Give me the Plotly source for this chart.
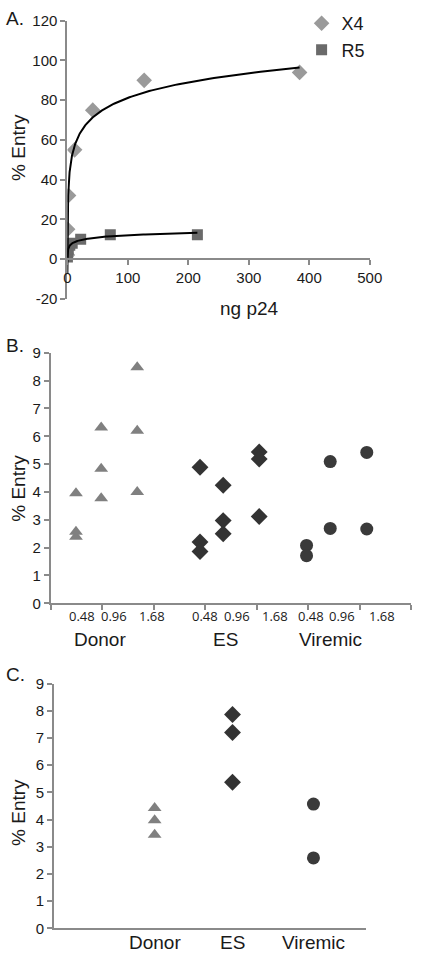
import numpy as np
import plotly.graph_objects as go

# ---------------- Panel A data ----------------
x4_ng = [0.04, 0.2, 0.5, 2, 12, 42, 127, 384]
x4_entry = [2, 7, 15, 32, 55, 75, 90, 94]
r5_ng = [0.1, 0.5, 1.5, 4, 8, 22, 71, 215]
r5_entry = [1, 3, 5, 7, 8, 10, 12.3, 12.3]
a_y_ticks = [-20, 0, 20, 40, 60, 80, 100, 120]
a_y_ticktext = ["-20", "0", "20", "40", "60", "80", "100", "120"]
a_x_ticks = [0, 100, 200, 300, 400, 500]

# ---------------- Panel B data ----------------
dose_labels = ["0.48", "0.96", "1.68"]
group_names = ["Donor", "ES", "Viremic"]
donor_x = [0.49, 0.98, 1.68]
donor_y = [[3.95, 2.57, 2.39], [6.32, 4.83, 3.77], [8.48, 6.2, 4.0]]
es_x = [2.90, 3.35, 4.05]
es_y = [[4.89, 2.2, 1.86], [4.24, 2.97, 2.5], [5.44, 5.18, 3.12]]
vir_x = [4.97, 5.43, 6.14]
vir_y = [[2.08, 1.71], [5.09, 2.69], [5.42, 2.67]]
dose_label_x = [[0.615, 1.22, 1.96], [2.99, 3.61, 4.35], [5.05, 5.66, 6.43]]
group_label_x = [0.96, 3.4, 5.43]

# ---------------- Panel C data ----------------
c_x = [1.29, 2.29, 3.33]
c_donor = [4.43, 3.98, 3.44]
c_es = [7.86, 7.2, 5.37]
c_vir = [4.57, 2.59]

W, H = 425, 960
FONT = "Liberation Sans, Arial, sans-serif"
AXC = "#8a8a8a"
TXT = "#1a1a1a"

def px_x(p):
    return p / W

def px_y(p):
    return 1 - p / H

def logfit(xs, ys):
    lx = np.log(np.array(xs, dtype=float))
    a, b = np.polyfit(lx, np.array(ys, dtype=float), 1)
    xx = np.geomspace(min(xs), max(xs), 300)
    return xx, a * np.log(xx) + b

fig = go.Figure()

# Panel A
fig.add_trace(go.Scatter(x=x4_ng, y=x4_entry, mode="markers", name="X4",
                         marker=dict(symbol="diamond", size=12, color="#9a9a9a"),
                         xaxis="x", yaxis="y"))
fig.add_trace(go.Scatter(x=r5_ng, y=r5_entry, mode="markers", name="R5",
                         marker=dict(symbol="square", size=11, color="#6a6a6a"),
                         xaxis="x", yaxis="y"))
fx, fy = logfit(x4_ng, x4_entry)
fig.add_trace(go.Scatter(x=fx, y=fy, mode="lines", line=dict(color="black", width=2),
                         showlegend=False, xaxis="x", yaxis="y"))
fx, fy = logfit(r5_ng, r5_entry)
fig.add_trace(go.Scatter(x=fx, y=fy, mode="lines", line=dict(color="black", width=2),
                         showlegend=False, xaxis="x", yaxis="y"))

# Panel B
for xi, ys in zip(donor_x, donor_y):
    fig.add_trace(go.Scatter(x=[xi] * len(ys), y=ys, mode="markers", showlegend=False,
                             marker=dict(symbol="triangle-up", size=12, color="#808080"),
                             xaxis="x2", yaxis="y2"))
for xi, ys in zip(es_x, es_y):
    fig.add_trace(go.Scatter(x=[xi] * len(ys), y=ys, mode="markers", showlegend=False,
                             marker=dict(symbol="diamond", size=13, color="#333333"),
                             xaxis="x2", yaxis="y2"))
for xi, ys in zip(vir_x, vir_y):
    fig.add_trace(go.Scatter(x=[xi] * len(ys), y=ys, mode="markers", showlegend=False,
                             marker=dict(symbol="circle", size=13, color="#3a3a3a"),
                             xaxis="x2", yaxis="y2"))

# Panel C
fig.add_trace(go.Scatter(x=[c_x[0]] * len(c_donor), y=c_donor, mode="markers", showlegend=False,
                         marker=dict(symbol="triangle-up", size=12, color="#808080"),
                         xaxis="x3", yaxis="y3"))
fig.add_trace(go.Scatter(x=[c_x[1]] * len(c_es), y=c_es, mode="markers", showlegend=False,
                         marker=dict(symbol="diamond", size=13, color="#333333"),
                         xaxis="x3", yaxis="y3"))
fig.add_trace(go.Scatter(x=[c_x[2]] * len(c_vir), y=c_vir, mode="markers", showlegend=False,
                         marker=dict(symbol="circle", size=13, color="#3a3a3a"),
                         xaxis="x3", yaxis="y3"))

tickfont = dict(family=FONT, size=15, color=TXT)
common_axis = dict(showgrid=False, zeroline=False, showline=True, linecolor=AXC, linewidth=2,
                   ticks="outside", tickcolor=AXC, ticklen=5, tickwidth=1.5, tickfont=tickfont)

annotations = []
# panel letters
for lab, yp in [("A.", 10), ("B.", 343), ("C.", 677)]:
    annotations.append(dict(text=lab, x=0, y=px_y(yp), xref="paper", yref="paper",
                            xanchor="left", yanchor="middle", showarrow=False,
                            font=dict(family=FONT, size=19, color=TXT)))
# y titles
for yp in [141, 488, 818]:
    annotations.append(dict(text="% Entry", x=px_x(15), y=px_y(yp), xref="paper", yref="paper",
                            textangle=-90, xanchor="center", yanchor="middle", showarrow=False,
                            font=dict(family=FONT, size=19, color=TXT)))
# x title A
annotations.append(dict(text="ng p24", x=px_x(256), y=px_y(305), xref="paper", yref="paper",
                        xanchor="center", yanchor="middle", showarrow=False,
                        font=dict(family=FONT, size=19, color=TXT)))
# dose labels B
for xs in dose_label_x:
    for xv, lab in zip(xs, dose_labels):
        annotations.append(dict(text=lab, x=xv, y=px_y(618), xref="x2", yref="paper",
                                xanchor="center", yanchor="middle", showarrow=False,
                                font=dict(family="Open Sans, sans-serif", size=13, color=TXT)))
for xv, lab in zip(group_label_x, group_names):
    annotations.append(dict(text=lab, x=xv, y=px_y(642), xref="x2", yref="paper",
                            xanchor="center", yanchor="middle", showarrow=False,
                            font=dict(family=FONT, size=19, color=TXT)))
# category labels C
for xv, lab in zip(c_x, group_names):
    annotations.append(dict(text=lab, x=xv, y=px_y(950), xref="x3", yref="paper",
                            xanchor="center", yanchor="middle", showarrow=False,
                            font=dict(family=FONT, size=19, color=TXT)))

fig.update_layout(
    width=W, height=H, margin=dict(l=0, r=0, t=0, b=0),
    paper_bgcolor="white", plot_bgcolor="white",
    showlegend=True,
    legend=dict(x=px_x(310), y=px_y(-4), xanchor="left", yanchor="top",
                font=dict(family=FONT, size=18, color=TXT), bgcolor="rgba(0,0,0,0)"),
    xaxis=dict(domain=[px_x(66), px_x(381)], range=[0, 500], tickvals=a_x_ticks,
               anchor="free", position=px_y(255), **common_axis),
    yaxis=dict(domain=[px_y(295), px_y(12)], range=[-20, 120], tickvals=a_y_ticks,
               ticktext=a_y_ticktext, anchor="x", **common_axis),
    xaxis2=dict(domain=[px_x(48.7), px_x(424)], range=[0, 7], tickvals=list(range(0, 8)),
                showticklabels=False, anchor="y2", **common_axis),
    yaxis2=dict(domain=[px_y(605), px_y(350)], range=[0, 9], tickvals=list(range(0, 10)),
                anchor="x2", **common_axis),
    xaxis3=dict(domain=[px_x(52.3), px_x(376.7)], range=[0, 4], tickvals=c_x,
                showticklabels=False, anchor="y3", **{**common_axis, "ticks": ""}),
    yaxis3=dict(domain=[px_y(936), px_y(686.7)], range=[0, 9], tickvals=list(range(0, 10)),
                anchor="x3", **common_axis),
    annotations=annotations,
)

fig.write_html("out.html", config={"displayModeBar": False},
               post_script="document.body.style.margin='0';")
